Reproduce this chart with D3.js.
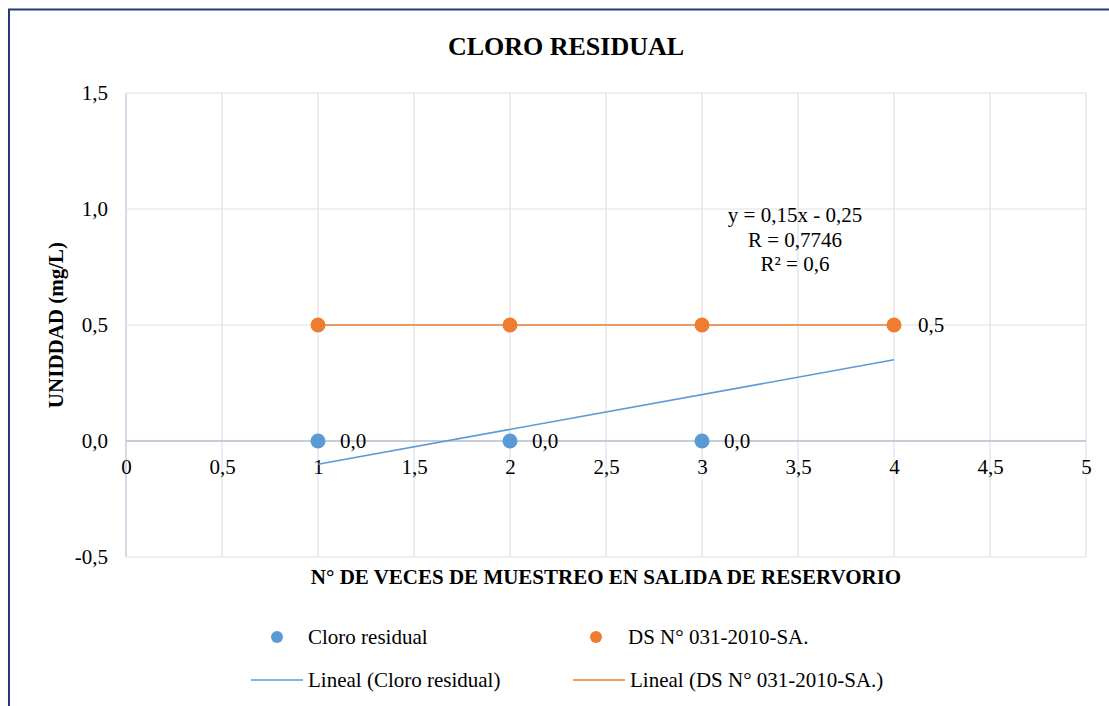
<!DOCTYPE html>
<html><head><meta charset="utf-8">
<script src="https://cdn.jsdelivr.net/npm/d3@7"></script>
<style>body{margin:0;background:#fff}svg{display:block}text{font-family:"Liberation Serif","Times New Roman",serif;fill:#000}</style>
</head><body><svg id="c" width="1109" height="706"></svg>
<script>
const xTicks=[0,0.5,1,1.5,2,2.5,3,3.5,4,4.5,5];
const yTicks=[-0.5,0,0.5,1.0,1.5];
const cloroX=[1,2,3];
const cloroY=[0,0,0];
const dsX=[1,2,3,4];
const dsY=[0.5,0.5,0.5,0.5];
const cloroTrend={slope:0.15,intercept:-0.25,x0:1,x1:4};
const dsTrend={slope:0,intercept:0.5,x0:1,x1:4};
const eqLines=["y = 0,15x - 0,25","R = 0,7746","R² = 0,6"];
const title="CLORO RESIDUAL";
const yTitle="UNIDDAD (mg/L)";
const xTitle="N° DE VECES DE MUESTREO EN SALIDA DE RESERVORIO";
const legendNames=["Cloro residual","DS N° 031-2010-SA.","Lineal (Cloro residual)","Lineal (DS N° 031-2010-SA.)"];
const blue="#5B9BD5",orange="#ED7D31";
const fmt=v=>d3.format(".1f")(v).replace(".",",").replace("\u2212","-");
const fmtX=v=>String(v).replace(".",",");
const FS=21;

const svg=d3.select("#c");
svg.append("rect").attr("x",9).attr("y",9.5).attr("width",1120).attr("height",720).attr("fill","none").attr("stroke","#1F3C7A").attr("stroke-width",2);
const x=d3.scaleLinear().domain([0,5]).range([126,1086]);
const y=d3.scaleLinear().domain([-0.5,1.5]).range([557,93]);

// grid
svg.append("g").selectAll("line").data(xTicks).join("line")
 .attr("x1",d=>x(d)).attr("x2",d=>x(d)).attr("y1",y(1.5)).attr("y2",y(-0.5))
 .attr("stroke",d=>d===0?"#C9D0DC":"#DDE1E8").attr("stroke-width",d=>d===0?1.5:1.2);
svg.append("g").selectAll("line").data(yTicks).join("line")
 .attr("x1",x(0)).attr("x2",x(5)).attr("y1",d=>y(d)).attr("y2",d=>y(d))
 .attr("stroke",d=>d===0?"#B4BCCB":"#DDE1E8").attr("stroke-width",d=>d===0?1.6:1.2);

// y axis labels
const yAxis=d3.axisLeft(y).tickValues(yTicks).tickFormat(fmt).tickSize(0).tickPadding(18);
const ga=svg.append("g").attr("transform",`translate(${x(0)},0)`).call(yAxis);
ga.attr("font-family",null).attr("font-size",null);
ga.select(".domain").remove();
ga.selectAll("text").attr("font-size",FS).attr("dy","0.3em");
// x axis labels at zero line
const xAxis=d3.axisBottom(x).tickValues(xTicks).tickFormat(fmtX).tickSize(0).tickPadding(0);
const gx=svg.append("g").attr("transform",`translate(0,${y(0)})`).call(xAxis);
gx.attr("font-family",null).attr("font-size",null);
gx.select(".domain").remove();
gx.selectAll("text").attr("font-size",FS).attr("y",26).attr("dy","0.35em");

// trendlines
const line=d3.line().x(d=>x(d[0])).y(d=>y(d[1]));
[[cloroTrend,blue],[dsTrend,orange]].forEach(([t,c])=>{
 svg.append("path").attr("d",line([[t.x0,t.slope*t.x0+t.intercept],[t.x1,t.slope*t.x1+t.intercept]]))
  .attr("stroke",c).attr("stroke-width",1.6).attr("fill","none");
});
// points
svg.append("g").selectAll("circle").data(dsX.map((v,i)=>[v,dsY[i]])).join("circle")
 .attr("cx",d=>x(d[0])).attr("cy",d=>y(d[1])).attr("r",7.5).attr("fill",orange);
svg.append("g").selectAll("circle").data(cloroX.map((v,i)=>[v,cloroY[i]])).join("circle")
 .attr("cx",d=>x(d[0])).attr("cy",d=>y(d[1])).attr("r",7.5).attr("fill",blue);
// data labels
svg.append("g").selectAll("text").data(cloroX.map((v,i)=>[v,cloroY[i]])).join("text")
 .attr("x",d=>x(d[0])+22).attr("y",d=>y(d[1])).attr("dy","0.35em").attr("font-size",FS).text(d=>fmt(d[1]));
const last=[dsX[dsX.length-1],dsY[dsY.length-1]];
svg.append("text").attr("x",x(last[0])+24).attr("y",y(last[1])).attr("dy","0.35em").attr("font-size",FS).text(fmt(last[1]));

// equation
svg.append("g").selectAll("text").data(eqLines).join("text")
 .attr("x",795).attr("y",(d,i)=>215+i*24.5).attr("dy","0.35em").attr("text-anchor","middle").attr("font-size",FS).text(d=>d);

// titles
svg.append("text").attr("x",566).attr("y",46).attr("dy","0.35em").attr("text-anchor","middle").attr("font-size",26).attr("font-weight","bold").text(title);
svg.append("text").attr("transform",`translate(56,${y(0.5)}) rotate(-90)`).attr("dy","0.35em").attr("text-anchor","middle").attr("font-size",FS).attr("font-weight","bold").text(yTitle);
svg.append("text").attr("x",606).attr("y",577).attr("dy","0.35em").attr("text-anchor","middle").attr("font-size",FS).attr("font-weight","bold").text(xTitle);

// legend
const lg=svg.append("g");
const items=[{n:legendNames[0],t:"dot",c:blue,x:277,y:637,tx:308},{n:legendNames[1],t:"dot",c:orange,x:596,y:637,tx:628},
 {n:legendNames[2],t:"line",c:blue,x:251,y:680,tx:308},{n:legendNames[3],t:"line",c:orange,x:573,y:680,tx:630}];
items.forEach(it=>{
 if(it.t==="dot") lg.append("circle").attr("cx",it.x).attr("cy",it.y).attr("r",6).attr("fill",it.c);
 else lg.append("line").attr("x1",it.x).attr("x2",it.x+52).attr("y1",it.y).attr("y2",it.y).attr("stroke",it.c).attr("stroke-width",1.6);
 lg.append("text").attr("x",it.tx).attr("y",it.y).attr("dy","0.35em").attr("font-size",FS).text(it.n);
});
</script></body></html>
